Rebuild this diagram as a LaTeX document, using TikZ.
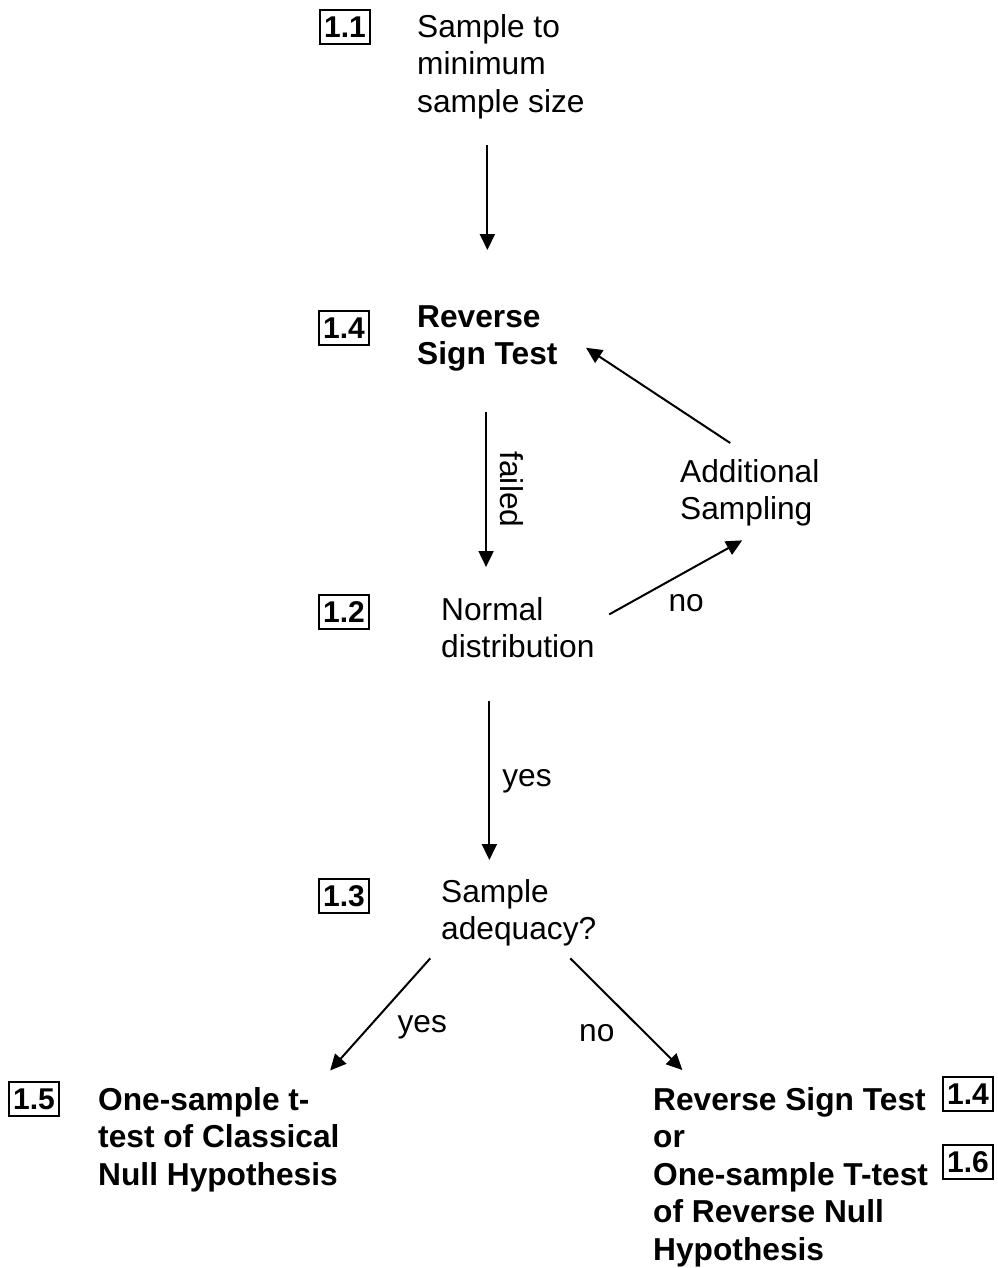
\documentclass[tikz,border=0pt]{standalone}
\usepackage{fontspec}
\setmainfont{Liberation Sans}
\usetikzlibrary{arrows.meta}
\begin{document}
\begin{tikzpicture}[x=1pt,y=-1pt,
  txt/.style={anchor=north west, inner sep=0pt, align=left, font=\fontsize{31.7}{37.6}\selectfont},
  btxt/.style={txt, font=\fontsize{31.7}{37.6}\selectfont\bfseries},
  numbox/.style={draw, line width=1.5pt, inner sep=0pt, minimum width=50pt, minimum height=34pt, font=\fontsize{30}{32}\selectfont\bfseries},
  arr/.style={line width=2pt, -{Triangle[length=16pt,width=15pt]}},
  lab/.style={inner sep=0pt, font=\fontsize{31.7}{37.6}\selectfont}]
\useasboundingbox (0,0) rectangle (997,1268);

% number boxes
\node[numbox] (b11) at (345,27) {1.1};
\node[numbox] (b14) at (344,328) {1.4};
\node[numbox] (b12) at (344,612) {1.2};
\node[numbox] (b13) at (344,896) {1.3};
\node[numbox] (b15) at (34,1099) {1.5};
\node[numbox] (b14r) at (968,1094) {1.4};
\node[numbox] (b16) at (968,1162) {1.6};

% texts
\node[txt] (t11) at (417,14) {Sample to\\minimum\\sample size};
\node[btxt] (t14) at (417,305) {Reverse\\Sign Test};
\node[txt] (t12) at (441,597) {Normal\\distribution};
\node[txt] (tas) at (680,459) {Additional\\Sampling};
\node[txt] (t13) at (441,879) {Sample\\adequacy?};
\node[btxt] (t15) at (98,1087) {One-sample t-\\test of Classical\\Null Hypothesis};
\node[btxt] (t16) at (653,1087) {Reverse Sign Test\\or\\One-sample T-test\\of Reverse Null\\Hypothesis};

% start points of the vertical connectors
\path ([shift={(-13.5,26.3)}]t11.south) coordinate (a1s);
\path ([shift={(-1.3,40)}]t14.south) coordinate (a2s);
\path ([shift={(-28.5,42.5)}]t12.south) coordinate (a5s);

% connectors
\draw[arr, shorten >=55pt] (a1s) -- (a1s |- t14.north);
\draw[arr, shorten >=30pt] (a2s) --
  node[lab, pos=0.42, rotate=-90, anchor=south, inner sep=13pt] {failed}
  (a2s |- t12.north);
\draw[arr] ([shift={(14.5,-13.25)}]t12.east) --
  node[lab, pos=0.5, xshift=10.5pt, yshift=-26pt] {no}
  ([shift={(-7.6,13.8)}]tas.south);
\draw[arr] ([shift={(-19.6,-16)}]tas.north) -- ([shift={(28.3,9.5)}]t14.east);
\draw[arr, shorten >=19pt] (a5s) --
  node[lab, pos=0.45, anchor=west, xshift=12pt] {yes}
  (a5s |- t13.north);
\draw[arr] ([shift={(-88.5,11.8)}]t13.south) --
  node[lab, pos=0.5, xshift=42pt, yshift=-13pt] {yes}
  ([shift={(111.25,-16.5)}]t15.north);
\draw[arr] ([shift={(51.5,11.8)}]t13.south) --
  node[lab, pos=0.5, xshift=-29.5pt, yshift=-19pt] {no}
  ([shift={(-108.25,-17)}]t16.north);
\end{tikzpicture}
\end{document}
